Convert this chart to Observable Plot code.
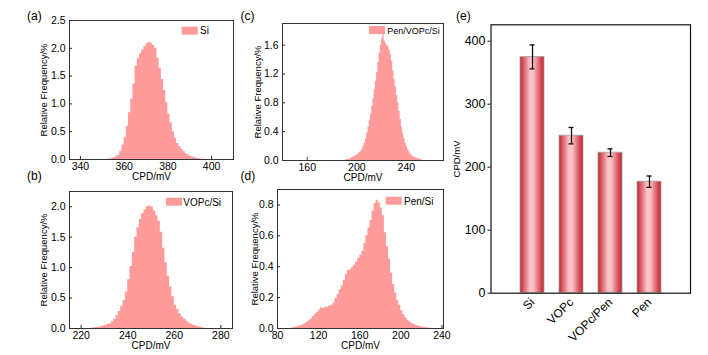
<!DOCTYPE html>
<html><head><meta charset="utf-8">
<script src="https://cdn.jsdelivr.net/npm/d3@7"></script>
<script src="https://cdn.jsdelivr.net/npm/@observablehq/plot@0.6"></script>
<style>
html,body{margin:0;padding:0;background:#fff;}
#root{position:relative;width:708px;height:355px;overflow:hidden;font-family:"Liberation Sans",Arial,sans-serif;}
.panel{position:absolute;}
.panel svg{overflow:visible;}
#overlay{position:absolute;left:0;top:0;}
</style></head><body><div id="root"></div>
<script>
// ---------- data ----------
// (a) Si histogram, 1 mV bins starting at siStart
const siStart = 350, siWidth = 1;
const siValues = [0.00,0.00,0.005,0.01,0.02,0.03,0.05,0.07,0.15,0.26,0.40,0.60,0.84,1.09,1.36,1.68,1.81,1.90,1.97,2.03,2.08,2.11,2.09,2.05,2.00,1.82,1.64,1.44,1.24,1.02,0.82,0.66,0.50,0.38,0.29,0.23,0.18,0.14,0.10,0.08,0.06,0.04,0.03,0.02,0.015,0.01,0.005,0.003];
// (b) VOPc/Si histogram
const vopcStart = 224, vopcWidth = 1;
const vopcValues = [0.005,0.01,0.015,0.02,0.03,0.04,0.05,0.065,0.08,0.11,0.15,0.21,0.28,0.36,0.46,0.60,0.80,1.02,1.25,1.50,1.66,1.79,1.89,1.95,2.00,2.01,1.99,1.93,1.85,1.76,1.58,1.32,1.08,0.86,0.68,0.52,0.38,0.31,0.24,0.19,0.15,0.12,0.09,0.07,0.05,0.04,0.03,0.02,0.01,0.005];
// (c) Pen/VOPc/Si histogram
const penVopcStart = 190, penVopcWidth = 1;
const penVopcValues = [0.005,0.01,0.01,0.015,0.02,0.03,0.04,0.05,0.06,0.07,0.08,0.09,0.11,0.13,0.16,0.20,0.24,0.30,0.38,0.46,0.55,0.64,0.75,0.86,0.98,1.10,1.22,1.36,1.49,1.60,1.68,1.80,1.66,1.62,1.60,1.58,1.53,1.47,1.38,1.24,1.12,1.02,0.90,0.80,0.68,0.57,0.46,0.37,0.30,0.24,0.19,0.15,0.12,0.09,0.07,0.055,0.045,0.035,0.03,0.025,0.02,0.015,0.01,0.005];
const penVopcOutlierX = [160], penVopcOutlierY = [0.04];
// (d) Pen/Si histogram, 2 mV bins
const penStart = 94, penWidth = 2;
const penValues = [0.005,0.008,0.010,0.014,0.018,0.025,0.032,0.040,0.050,0.062,0.078,0.092,0.105,0.120,0.135,0.130,0.140,0.138,0.145,0.150,0.165,0.195,0.220,0.250,0.275,0.310,0.350,0.375,0.380,0.395,0.410,0.430,0.455,0.475,0.500,0.550,0.600,0.650,0.700,0.760,0.810,0.830,0.815,0.780,0.730,0.620,0.530,0.450,0.360,0.285,0.230,0.180,0.150,0.115,0.090,0.070,0.055,0.042,0.033,0.026,0.020,0.016,0.013,0.010,0.007,0.005,0.003,0.002];
// (e) mean CPD with error
const samples = ["Si","VOPc","VOPc/Pen","Pen"];
const cpdMean = [375, 250, 223, 177];
const cpdErr  = [19, 13, 6, 9];

// tick labels
const aXTicks = [340,360,380,400], aYTicks = [0,0.5,1.0,1.5,2.0,2.5];
const bXTicks = [220,240,260,280], bYTicks = [0,0.5,1.0,1.5,2.0];
const cXTicks = [160,200,240],     cYTicks = [0,0.4,0.8,1.2,1.6];
const dXTicks = [80,120,160,200,240], dYTicks = [0,0.2,0.4,0.6,0.8];
const eYTicks = [0,100,200,300,400];

const legendLabels = ["Si","VOPc/Si","Pen/VOPc/Si","Pen/Si"];
const panelLetters = ["(a)","(b)","(c)","(d)","(e)"];

// ---------- drawing ----------
const FONT = "'Liberation Sans', Arial, Helvetica, sans-serif";
const PINK = "#ff9b9b";
const root = document.getElementById("root");

function toBins(start, width, values){
  const d = values.map((v,i)=>({x: start + i*width, y: v}));
  d.push({x: start + values.length*width, y: 0});
  return d;
}

function hist(o){
  const innerW = o.w - o.ml - o.mr, innerH = o.h - o.mt - o.mb;
  const marks = [
    Plot.tickX(o.xTicks, {x: d=>d, insetTop: innerH-3, stroke:"#222"}),
    Plot.tickY(o.yTicks, {y: d=>d, insetRight: innerW-3, stroke:"#222"}),
  ];
  if (o.extra) marks.push(o.extra);
  marks.push(
    Plot.areaY(toBins(o.start,o.width,o.values), {x:"x", y:"y", curve:"step-after", fill:PINK}),
    Plot.axisX({ticks:o.xTicks, tickSize:0, tickPadding:3, tickFormat:d=>String(d), label:null, fontSize:10.5}),
    Plot.axisY({ticks:o.yTicks, tickSize:0, tickPadding:4, tickFormat:o.yFmt, label:null, fontSize:10.5}),
    Plot.text(["CPD/mV"], {text:d=>d, frameAnchor:"bottom", lineAnchor:"top", dy:13.5, fontSize:10}),
    Plot.text(["Relative Frequency/%"], {text:d=>d, frameAnchor:"left", textAnchor:"middle", rotate:-90, dx:-o.ylabOff, fontSize:9.5}),
    Plot.frame({stroke:"#333"})
  );
  const p = Plot.plot({
    width:o.w, height:o.h, marginLeft:o.ml, marginRight:o.mr, marginTop:o.mt, marginBottom:o.mb,
    style:{fontFamily:FONT, fontSize:"11px", color:"#000", background:"transparent"},
    x:{domain:o.xDomain}, y:{domain:o.yDomain},
    marks
  });
  const div = document.createElement("div");
  div.className = "panel";
  div.style.left = o.left+"px"; div.style.top = o.top+"px";
  div.appendChild(p);
  root.appendChild(div);
}

hist({left:0, top:0, w:240, h:185, ml:69, mr:7, mt:20, mb:26, ylabOff:26,
  start:siStart, width:siWidth, values:siValues, xDomain:[335,410], yDomain:[0,2.5],
  xTicks:aXTicks, yTicks:aYTicks, yFmt:d3.format(".1f")});
hist({left:0, top:170, w:240, h:185, ml:69, mr:8, mt:21, mb:27, ylabOff:26,
  start:vopcStart, width:vopcWidth, values:vopcValues, xDomain:[215,285], yDomain:[0,2.25],
  xTicks:bXTicks, yTicks:bYTicks, yFmt:d3.format(".1f")});
hist({left:220, top:0, w:240, h:185, ml:62, mr:17, mt:23, mb:25, ylabOff:25,
  start:penVopcStart, width:penVopcWidth, values:penVopcValues, xDomain:[140,270], yDomain:[0,1.9],
  xTicks:cXTicks, yTicks:cYTicks, yFmt:d3.format(".1f"),
  extra: Plot.rectY(penVopcOutlierX.map((x,i)=>({x, y:penVopcOutlierY[i]})), {x1:"x", x2:d=>d.x+1, y:"y", fill:"#888"})});
hist({left:220, top:170, w:240, h:185, ml:57, mr:17, mt:19, mb:27, ylabOff:23,
  start:penStart, width:penWidth, values:penValues, xDomain:[80,241.5], yDomain:[0,0.9],
  xTicks:dXTicks, yTicks:dYTicks, yFmt:d3.format(".1f")});

// panel (e)
const eData = samples.map((s,i)=>({cat:s, cpd:cpdMean[i], err:cpdErr[i]}));
const pe = Plot.plot({
  width:258, height:355, marginLeft:40.5, marginRight:18, marginTop:24.3, marginBottom:62.3,
  style:{fontFamily:FONT, fontSize:"12px", color:"#000", background:"transparent"},
  x:{domain:samples, paddingInner:0.375, paddingOuter:0.6875, align:0.5},
  y:{domain:[0,426]},
  marks:[
    Plot.barY(eData, {x:"cat", y:"cpd", fill:"url(#barGrad)", stroke:"#a3a3a3", strokeWidth:0.8}),
    Plot.ruleX(eData, {x:"cat", y1:d=>d.cpd-d.err, y2:d=>d.cpd+d.err, stroke:"#111", strokeWidth:1.3}),
    Plot.tickY(eData, {x:"cat", y:d=>d.cpd+d.err, insetLeft:9.5, insetRight:9.5, stroke:"#111", strokeWidth:1.3}),
    Plot.tickY(eData, {x:"cat", y:d=>d.cpd-d.err, insetLeft:9.5, insetRight:9.5, stroke:"#111", strokeWidth:1.3}),
    Plot.axisX({tickRotate:-45, tickSize:0, tickPadding:7, label:null, fontSize:12}),
    Plot.axisY({ticks:eYTicks, tickSize:3, tickPadding:2.5, label:null, fontSize:12.5, stroke:"#111"}),
    Plot.text(["CPD/mV"], {text:d=>d, frameAnchor:"left", textAnchor:"middle", rotate:-90, dx:-34, fontSize:9.5}),
    Plot.frame({stroke:"#111", strokeWidth:1.2})
  ]
});
const ns = "http://www.w3.org/2000/svg";
const defs = document.createElementNS(ns,"defs");
defs.innerHTML = `<linearGradient id="barGrad" x1="0" y1="0" x2="1" y2="0">
  <stop offset="0" stop-color="#c0262c"/>
  <stop offset="0.12" stop-color="#d5505a"/>
  <stop offset="0.42" stop-color="#fcc5c9"/>
  <stop offset="0.55" stop-color="#fbc2c6"/>
  <stop offset="0.85" stop-color="#d5505a"/>
  <stop offset="1" stop-color="#c0262c"/>
</linearGradient>`;
pe.insertBefore(defs, pe.firstChild);
const de = document.createElement("div");
de.className = "panel"; de.style.left = "450px"; de.style.top = "0px";
de.appendChild(pe); root.appendChild(de);

// overlay: panel letters and legends
const letterPos = [[27,20],[27,180],[240.5,20],[240.5,180],[456,20]];
const legendPos = [
  {sx:181.7, sy:26.7, tx:200,   ty:34.3, fs:10},
  {sx:166,   sy:197.7, tx:183.3, ty:206,  fs:10},
  {sx:369,   sy:26,   tx:387.3, ty:34,   fs:9},
  {sx:385.7, sy:196.7, tx:404,   ty:205,  fs:10}
];
let ov = `<svg id="overlay" width="708" height="355" xmlns="${ns}" font-family="${FONT}">`;
panelLetters.forEach((t,i)=>{ ov += `<text x="${letterPos[i][0]}" y="${letterPos[i][1]}" font-size="12" fill="#000">${t}</text>`; });
legendLabels.forEach((t,i)=>{ const p = legendPos[i];
  ov += `<rect x="${p.sx}" y="${p.sy}" width="16" height="8" fill="${PINK}"/>`;
  ov += `<text x="${p.tx}" y="${p.ty}" font-size="${p.fs}" fill="#000">${t}</text>`; });
ov += `</svg>`;
root.insertAdjacentHTML("beforeend", ov);
</script>
</body></html>
